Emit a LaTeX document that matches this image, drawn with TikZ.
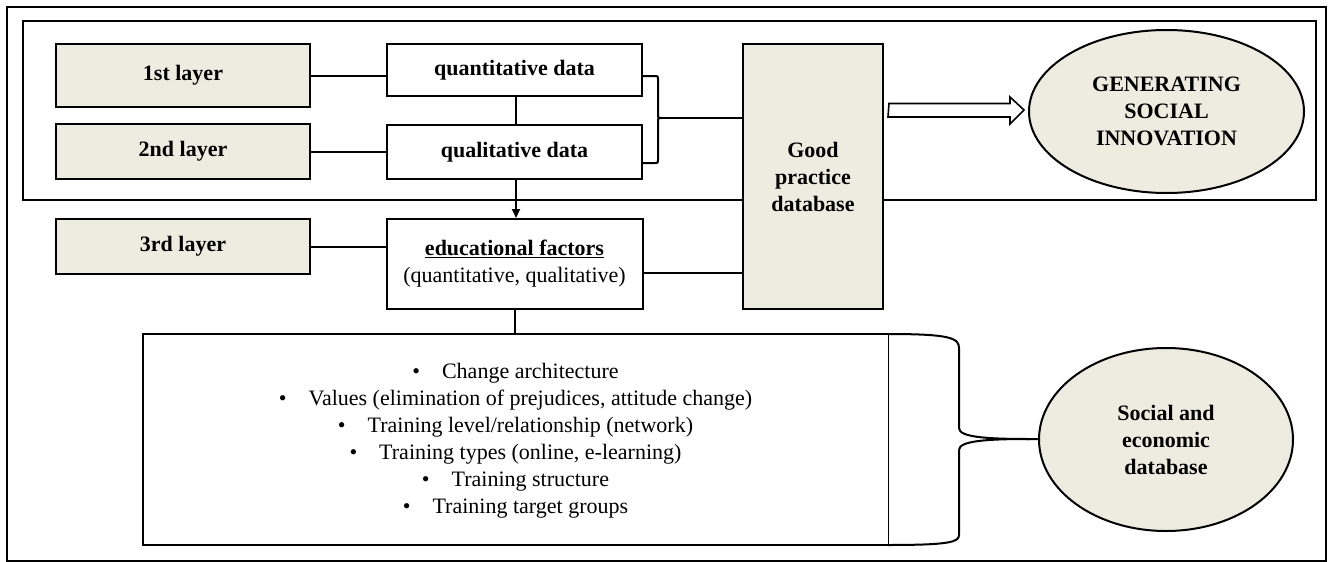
\documentclass[tikz,border=0pt]{standalone}
\usepackage{fontspec}
\setmainfont{Liberation Serif}
\usetikzlibrary{shapes.geometric,calc,arrows.meta}
\definecolor{tanfill}{HTML}{EEECE1}
\newcommand\bul{\textbullet\hspace{22pt}}
\begin{document}
\begin{tikzpicture}[x=1pt,y=-1pt,
  box/.style={draw,line width=2pt,rectangle,inner sep=0pt,align=center,
    font=\fontsize{22}{27}\selectfont\bfseries},
  tanbox/.style={box,fill=tanfill},
  oval/.style={draw,line width=2pt,ellipse,fill=tanfill,inner sep=0pt,align=center,
    font=\fontsize{22}{27}\selectfont\bfseries},
  link/.style={line width=2pt},
  thinlink/.style={line width=0.9pt}]
\useasboundingbox (0,0) rectangle (1328,562);
% frames
\draw[line width=2pt] (7,7) rectangle (1326,561);
\draw[line width=2pt] (23,21) rectangle (1316,200);
% left column
\node[tanbox,minimum width=254pt,minimum height=63pt] (l1) at (183,75.5) {1st layer};
\node[tanbox,minimum width=254pt,minimum height=55pt] (l2) at (183,151.5) {2nd layer};
\node[tanbox,minimum width=254pt,minimum height=55pt] (l3) at (183,246.5) {3rd layer};
% middle column
\node[box,fill=white,minimum width=255pt,minimum height=52pt] (quant) at (514.5,70) {quantitative data};
\node[box,fill=white,minimum width=255pt,minimum height=54pt] (qual) at (514.5,152) {qualitative data};
\node[box,fill=white,minimum width=256pt,minimum height=90pt] (edu) at (514.5,264)
  {\underline{educational factors}\\\mdseries (quantitative, qualitative)};
% good practice
\node[tanbox,minimum width=140pt,minimum height=265pt] (gp) at (813,176.5) {Good\\practice\\database};
% ellipses
\node[oval,minimum width=275pt,minimum height=163pt] (gen) at (1166.5,111.5) {GENERATING\\SOCIAL\\INNOVATION};
\node[oval,minimum width=254pt,minimum height=183pt] (soc) at (1166,439.5) {Social and\\economic\\database};
% connectors left -> middle
\draw[link] (l1.east) -- (l1.east -| quant.west);
\draw[link] (l2.east) -- (l2.east -| qual.west);
\draw[link] (l3.east) -- (l3.east -| edu.west);
\draw[link] ($(quant.south)+(1.5,0)$) -- ($(qual.north)+(1.5,0)$);
\draw[link,-{Triangle[length=9pt,width=8pt]}] ($(qual.south)+(1.5,0)$) -- ($(edu.north)+(1.5,0)$);
% small brace
\coordinate (bt) at (661,118);
\draw[link,line join=round] ($(quant.east)+(0,6)$) -- (655,76) .. controls (658,76) .. (658,79) -- (658,115)
   .. controls (658,118) .. (bt) .. controls (658,118) .. (658,121) -- (658,160)
   .. controls (658,163) .. (655,163) -- (qual.east |- 0,163);
\draw[link] (bt) -- (bt -| gp.west);
\draw[link] (edu.east |- 0,273) -- (gp.west |- 0,273);
% hollow arrow
\draw[line width=1.6pt,fill=white,line join=miter]
  ($(gp.east)+(5,-73)$) coordinate (ha) -- (1010,103.5) -- (1010,97) -- (1024,110) -- (1010,124)
  -- (1010,117) -- (888,117) -- cycle;
% bottom list box
\coordinate (lb1) at (143,334);
\coordinate (lb2) at (888,545);
\draw[link] (edu.south) -- (edu.south |- lb1);
\draw[link,line join=miter] (lb1 -| lb2) -- (lb1) -- (lb1 |- lb2) -- (lb2);
\draw[thinlink] (lb1 -| lb2) -- (lb2);
\node[align=center,font=\fontsize{22}{27}\selectfont] (list) at (515.5,441)
  {\bul Change architecture\\
   \bul Values (elimination of prejudices, attitude change)\\
   \bul Training level/relationship (network)\\
   \bul Training types (online, e-learning)\\
   \bul Training structure\\
   \bul Training target groups};
% big brace
\coordinate (bb) at (1030,439);
\draw[link,line join=round] (lb1 -| lb2) .. controls (950,334) and (959,338) .. (959,348) -- (959,428)
  .. controls (959,437) and (985,439) .. (bb) -- (bb -| soc.west);
\draw[link,line join=round] (bb) .. controls (985,439) and (959,441) .. (959,450) -- (959,535)
  .. controls (959,542) and (950,545) .. (lb2);
\end{tikzpicture}
\end{document}
